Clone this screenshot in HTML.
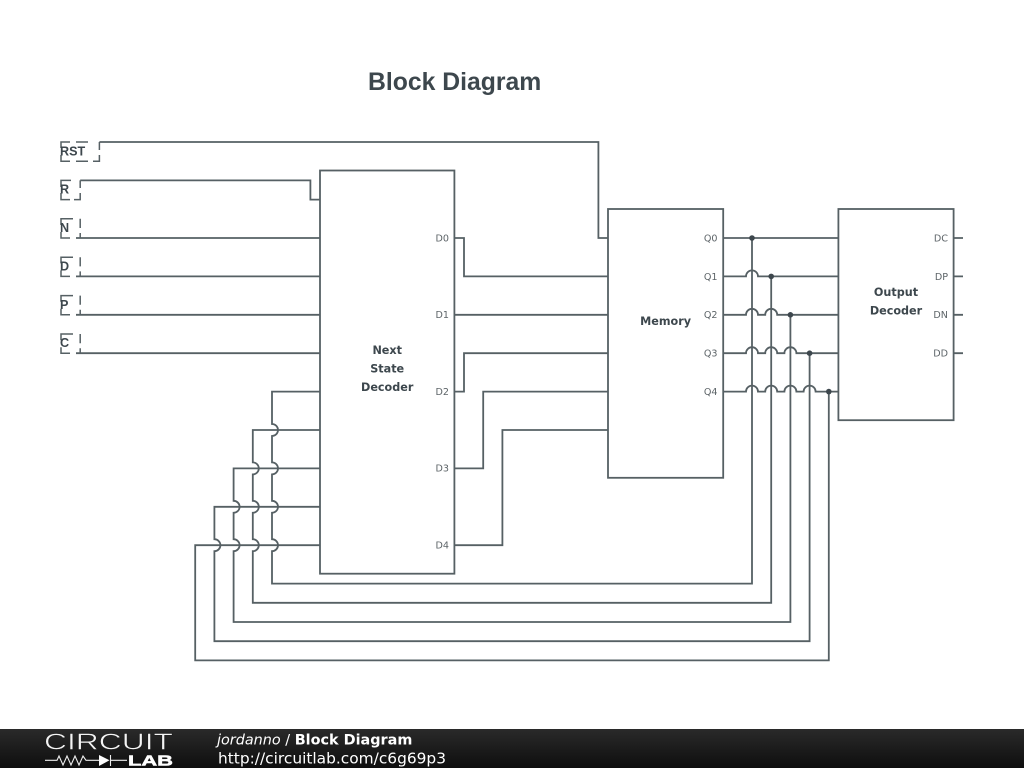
<!DOCTYPE html>
<html><head><meta charset="utf-8"><style>
html,body{margin:0;padding:0;background:#fff;width:1024px;height:768px;overflow:hidden}
svg{display:block}
</style></head><body>
<svg width="1024" height="768" viewBox="0 0 1024 768" xmlns="http://www.w3.org/2000/svg">
<defs><linearGradient id="g" x1="0" y1="0" x2="0" y2="1"><stop offset="0" stop-color="#2a2a2a"/><stop offset="1" stop-color="#0e0e0e"/></linearGradient></defs>
<rect width="1024" height="768" fill="#fff"/>
<text x="368" y="90" font-family="'Liberation Sans',sans-serif" font-weight="bold" font-size="24.75" fill="#3d474d">Block Diagram</text>

<g fill="none" stroke="#566064" stroke-width="1.8">
<!-- dashed ports -->
<g stroke-width="1.5">
<path d="M61 148V142H70M76 142H88M99.4 142V150M99.4 155V161.2H93M88 161.2H76M70 161.2H61V155"/>
<path d="M61 187V180.4H71M80.2 180.4V188M80.2 193V199.6H74M70 199.6H61V193"/>
<path d="M61 225V218.8H73M80.2 218.8V228M80.2 233V238M70 238H61V232"/>
<path d="M61 263.4V257.2H73M80.2 257.2V266.4M80.2 271.4V276.4M70 276.4H61V270.4"/>
<path d="M61 301.8V295.6H73M80.2 295.6V304.8M80.2 309.8V314.8M70 314.8H61V308.8"/>
<path d="M61 340.2V334H73M80.2 334V343.2M80.2 348.2V353.2M70 353.2H61V347.2"/>
</g>
<!-- blocks -->
<rect x="320" y="170.5" width="134.4" height="403.2"/>
<rect x="608" y="209" width="115.2" height="268.8"/>
<rect x="838.4" y="209" width="115.2" height="211.2"/>
<!-- inputs -->
<path d="M99.4 142H598.4V238H608"/>
<path d="M80.2 180.4H310.4V199.6H320"/>
<path d="M76 238H320M76 276.4H320M76 314.8H320M76 353.2H320"/>
<!-- next state to memory -->
<path d="M454.4 238H464V276.4H608"/>
<path d="M454.4 314.8H608"/>
<path d="M454.4 391.6H464V353.2H608"/>
<path d="M454.4 468.4H483.2V391.6H608"/>
<path d="M454.4 545.2H502.4V430H608"/>
<!-- outputs -->
<path d="M953.6 238H963M953.6 276.4H963M953.6 314.8H963M953.6 353.2H963"/>
<!-- Q0 .. Q4 -->
<path d="M723.2 238H838.4"/>
<path d="M723.2 276.4H746A6 6 0 0 1 758 276.4H838.4"/>
<path d="M723.2 314.8H746A6 6 0 0 1 758 314.8H765.2A6 6 0 0 1 777.2 314.8H838.4"/>
<path d="M723.2 353.2H746A6 6 0 0 1 758 353.2H765.2A6 6 0 0 1 777.2 353.2H784.4A6 6 0 0 1 796.4 353.2H838.4"/>
<path d="M723.2 391.6H746A6 6 0 0 1 758 391.6H765.2A6 6 0 0 1 777.2 391.6H784.4A6 6 0 0 1 796.4 391.6H803.6A6 6 0 0 1 815.6 391.6H838.4"/>
<!-- feedback -->
<path d="M752 238V583.6H272V551.2A6 6 0 0 0 272 539.2V512.8A6 6 0 0 0 272 500.8V474.4A6 6 0 0 0 272 462.4V436A6 6 0 0 0 272 424V391.6H320"/>
<path d="M771.2 276.4V602.8H252.8V551.2A6 6 0 0 0 252.8 539.2V512.8A6 6 0 0 0 252.8 500.8V474.4A6 6 0 0 0 252.8 462.4V430H320"/>
<path d="M790.4 314.8V622H233.6V551.2A6 6 0 0 0 233.6 539.2V512.8A6 6 0 0 0 233.6 500.8V468.4H320"/>
<path d="M809.6 353.2V641.2H214.4V551.2A6 6 0 0 0 214.4 539.2V506.8H320"/>
<path d="M828.8 391.6V660.4H195.2V545.2H320"/>
</g>
<g fill="#3d474d">
<circle cx="752" cy="238" r="2.8"/><circle cx="771.2" cy="276.4" r="2.8"/><circle cx="790.4" cy="314.8" r="2.8"/><circle cx="809.6" cy="353.2" r="2.8"/><circle cx="828.8" cy="391.6" r="2.8"/>
</g>

<g font-family="'DejaVu Sans',sans-serif" font-size="9.6" fill="#5d6468" text-anchor="end">
<text x="449" y="241.5">D0</text><text x="449" y="318">D1</text><text x="449" y="394.8">D2</text><text x="449" y="471.6">D3</text><text x="449" y="548.4">D4</text>
<text x="717.5" y="241.5">Q0</text><text x="717.5" y="279.8">Q1</text><text x="717.5" y="318">Q2</text><text x="717.5" y="356.4">Q3</text><text x="717.5" y="394.8">Q4</text>
<text x="948" y="241.5">DC</text><text x="948" y="279.8">DP</text><text x="948" y="318">DN</text><text x="948" y="356.4">DD</text>
</g>
<g font-family="'DejaVu Sans',sans-serif" font-size="11.2" font-weight="bold" fill="#3d474d" text-anchor="middle">
<text x="387.2" y="354">Next</text><text x="387.2" y="372.5">State</text><text x="387.2" y="391">Decoder</text>
<text x="665.6" y="325">Memory</text>
<text x="896" y="296">Output</text><text x="896" y="314.5">Decoder</text>
</g>
<g font-family="'Liberation Sans',sans-serif" font-size="12.6" font-weight="bold" fill="#3d474d">
<text x="60" y="155.3">RST</text><text x="60" y="193.4">R</text><text x="60" y="232">N</text><text x="60" y="270.4">D</text><text x="60" y="308.8">P</text><text x="60" y="347.2">C</text>
</g>

<!-- footer -->
<rect x="0" y="729" width="1024" height="39" fill="url(#g)"/>
<text x="44" y="749.5" font-family="'Liberation Sans',sans-serif" font-size="23" fill="#f4f4f4" stroke="#1e1e1e" stroke-width="0.55" textLength="129" lengthAdjust="spacingAndGlyphs">CIRCUIT</text>
<path d="M45 760.3H57L59 756L63 765L67 756L71 765L75 756L79 765L83 756L86 760.3H99M110.5 755V766M110.5 760.3H127" fill="none" stroke="#eee" stroke-width="1.1"/>
<path d="M99 755L109.5 760.3L99 766Z" fill="#fff"/>
<text x="128" y="765.5" font-family="'Liberation Sans',sans-serif" font-size="14.5" font-weight="bold" fill="#fff" stroke="#fff" stroke-width="0.5" textLength="45" lengthAdjust="spacingAndGlyphs">LAB</text>
<text x="217" y="744.5" font-family="'DejaVu Sans',sans-serif" font-size="14.4" fill="#fff"><tspan font-style="italic">jordanno</tspan> / <tspan font-weight="bold">Block Diagram</tspan></text>
<text x="218" y="763.5" font-family="'DejaVu Sans',sans-serif" font-size="15.4" fill="#fff">http://circuitlab.com/c6g69p3</text>
</svg>
</body></html>
